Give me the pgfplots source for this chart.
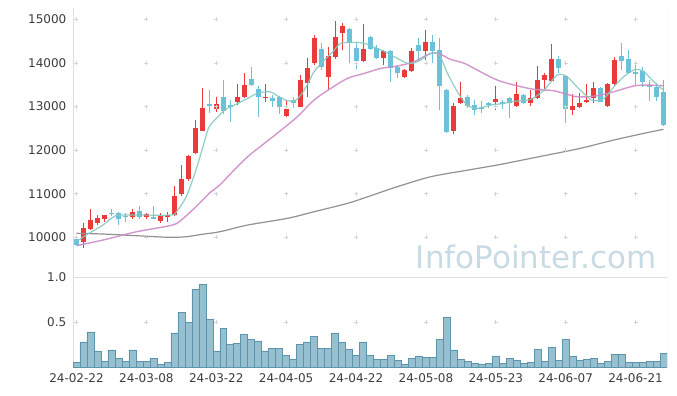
\documentclass[border=0pt]{standalone}
\usepackage{fontspec}
\setmainfont{DejaVu Sans}
\usepackage{pgfplots}
\usepackage{pgfplotstable}
\pgfplotsset{compat=1.18}

\definecolor{upc}{RGB}{236,58,58}
\definecolor{dnc}{RGB}{108,192,216}
\definecolor{volf}{RGB}{150,192,208}
\definecolor{vole}{RGB}{92,148,172}
\definecolor{ma5}{RGB}{132,200,192}
\definecolor{ma20}{RGB}{204,140,198}
\definecolor{ma120}{RGB}{145,145,145}
\definecolor{gridc}{RGB}{212,212,212}
\definecolor{axc}{RGB}{222,222,222}
\definecolor{wmc}{RGB}{200,218,228}
\definecolor{txt}{RGB}{60,60,60}

% up candles (close > open)
\pgfplotstableread{
i o h l c
1 9900 10320 9750 10206
2 10190 10640 10160 10400
3 10335 10510 10280 10450
4 10420 10510 10360 10510
8 10460 10660 10410 10590
10 10470 10560 10410 10530
12 10380 10550 10335 10490
13 10460 10590 10360 10510
14 10510 11180 10480 10950
15 10990 11670 10950 11340
16 11330 11890 11300 11865
17 11930 12700 11900 12500
18 12450 13420 12430 12960
20 12940 13225 12880 13055
23 13110 13510 13030 13210
24 13215 13760 13190 13490
27 13185 13510 13110 13215
30 12780 13150 12760 12945
32 13000 13720 12980 13610
33 13550 14105 13210 13875
34 14005 14640 13950 14565
36 13685 14370 13380 14160
37 14140 14965 14100 14600
38 14695 14910 14300 14855
41 14050 14890 14020 14310
44 14105 14300 13950 14265
47 13685 13860 13660 13835
48 13820 14335 13800 14275
50 14280 14755 14065 14470
54 12445 13070 12360 13010
55 13090 13570 13050 13200
60 13110 13470 12920 13165
63 13020 13570 12990 13285
65 13090 13380 13010 13190
66 13200 13920 13180 13610
67 13610 13775 13360 13720
68 13590 14435 13560 14085
71 12920 13290 12805 13010
72 12995 13310 12970 13085
73 13095 13515 13070 13150
74 13200 13555 13085 13430
76 13010 13530 13000 13515
77 13515 14130 13500 14060
}\up

% down candles (close < open)
\pgfplotstableread{
i o h l c
0 9960 10040 9800 9825
5 10560 10640 10490 10530
6 10550 10570 10280 10410
7 10500 10550 10360 10460
9 10600 10720 10410 10470
11 10470 10720 10420 10430
19 13055 13390 12860 13010
21 13210 13600 12830 12900
22 13035 13150 12650 12980
25 13630 13900 13480 13500
26 13395 13470 12760 13230
28 13200 13265 12995 13135
29 13230 13250 12830 12995
31 13150 13210 12960 13075
35 14310 14450 13840 13910
39 14775 14800 13990 14460
40 14335 14490 13850 14050
42 14595 14620 14300 14330
43 14335 14420 14100 14120
45 14275 14300 13560 13890
46 13910 13950 13645 13760
49 14410 14580 14067 14275
51 14470 14640 14005 14275
52 14295 14565 12920 13470
53 13380 13400 12400 12420
56 13225 13260 12960 13010
57 13035 13150 12805 12920
58 12995 13125 12850 12945
59 13070 13100 12960 13035
61 13110 13140 12935 13055
62 13190 13210 12730 13075
64 13265 13290 13060 13085
69 14100 14160 13760 13885
70 13700 13720 12615 12945
75 13430 13440 13100 13110
78 14160 14450 13840 14045
79 14100 14300 13740 13760
80 13800 14030 13490 13740
81 13815 13900 13450 13570
82 13495 13610 13125 13440
83 13440 13530 13125 13225
84 13340 13620 12560 12575
}\down

% moving averages
\pgfplotstableread{
x y
0 9899
1.4 10053
3.8 10282
5.2 10459
6.6 10511
13.3 10511
14.3 10587
15.7 10931
17.1 11544
18.1 12078
19 12537
20.5 12805
21.2 12920
22.6 13034
24.5 13188
25.9 13303
27.6 13340
28.8 13241
30.2 13133
31.4 13149
32.6 13378
34 13798
35.5 14067
36.9 14296
37.8 14449
39.7 14472
41.2 14449
43.6 14296
45.9 14106
47.4 13991
48.8 14028
50.7 14220
51.9 14181
53.1 13761
54.5 13340
55.9 13034
57.4 12959
59.3 13034
61.2 13073
62.6 13120
65 13165
66.9 13378
68.8 13722
70.2 13684
71.6 13454
73.1 13225
74 13133
75.5 13188
76.9 13454
78.3 13684
80 13853
81.2 13798
82.6 13569
84 13378
}\maA

\pgfplotstableread{
x y
0 9808
3.8 9938
8.6 10128
13.3 10266
14.7 10358
17.1 10702
19 11009
20.5 11200
22.1 11468
24.5 11849
26.9 12156
29.3 12461
31.6 12766
34 13149
36.4 13417
38.8 13647
41.2 13761
43.6 13876
45.9 13929
48.3 14028
50.7 14220
52.1 14197
53.5 14083
55.5 13991
57.8 13798
60.2 13608
62.6 13493
65.5 13394
68.3 13362
71.6 13225
74.5 13248
76.9 13340
79.7 13470
81.6 13493
84 13477
}\maB

\pgfplotstableread{
x y
0 10092
3.8 10076
8.6 10037
13.3 10000
15.7 10014
18 10070
20.5 10128
24.5 10282
30.2 10436
34 10587
38.8 10780
41.2 10905
45.9 11161
50.7 11390
55.5 11528
60.2 11658
62.6 11734
67.4 11888
72.1 12041
76.9 12232
81.6 12399
84 12477
}\maC

\pgfplotstableread{
i v
0 0.053
1 0.28
2 0.39
3 0.18
4 0.064
5 0.19
6 0.10
7 0.064
8 0.19
9 0.064
10 0.064
11 0.10
12 0.03
13 0.053
14 0.38
15 0.61
16 0.50
17 0.86
18 0.92
19 0.53
20 0.18
21 0.43
22 0.25
23 0.26
24 0.36
25 0.31
26 0.29
27 0.18
28 0.21
29 0.21
30 0.13
31 0.087
32 0.25
33 0.28
34 0.34
35 0.21
36 0.21
37 0.37
38 0.27
39 0.20
40 0.13
41 0.28
42 0.13
43 0.087
44 0.087
45 0.13
46 0.076
47 0.03
48 0.10
49 0.12
50 0.11
51 0.11
52 0.31
53 0.55
54 0.19
55 0.087
56 0.064
57 0.042
58 0.03
59 0.042
60 0.12
61 0.042
62 0.10
63 0.076
64 0.042
65 0.053
66 0.20
67 0.064
68 0.22
69 0.076
70 0.31
71 0.12
72 0.076
73 0.087
74 0.10
75 0.042
76 0.064
77 0.14
78 0.14
79 0.053
80 0.053
81 0.053
82 0.064
83 0.064
84 0.155
}\vol

\begin{document}
\begin{tikzpicture}
\useasboundingbox (0pt,0pt) rectangle (677pt,-396pt);
\pgfplotsset{
  every axis/.append style={
    scale only axis, width=594pt,
    xmin=-0.5, xmax=84.5,
    axis line style={draw=none},
    major tick length=0pt,
    yticklabel style={anchor=east, inner sep=0pt, xshift=-6.5pt, font=\fontsize{12}{14}\selectfont, text=txt},
    xticklabel style={anchor=north, inner sep=0pt, yshift=-6pt, font=\fontsize{12}{14}\selectfont, text=txt},
  },
  candle/.style 2 args={draw=none, mark=none, forget plot,
    error bars/.cd, y dir=plus, y explicit, error mark=none,
    error bar style={draw=#1, solid, line width=#2}},
}
% ---------- price panel ----------
\begin{axis}[
  at={(73pt,-277pt)}, anchor=south west,
  height=269pt,
  ymin=9090, ymax=15260,
  xtick=\empty,
  ytick={10000,11000,12000,13000,14000,15000},
  yticklabels={10000,11000,12000,13000,14000,15000},
]
\node[font=\fontsize{31}{36}\selectfont, text=wmc, anchor=base] at (axis cs:65.8,9296) {InfoPointer.com};
\addplot[only marks, mark=+, mark size=2pt, color=gridc, mark options={line width=0.7pt}] coordinates {
(0,10000)(10,10000)(20,10000)(30,10000)(40,10000)(50,10000)(60,10000)(70,10000)(80,10000)
(0,11000)(10,11000)(20,11000)(30,11000)(40,11000)(50,11000)(60,11000)(70,11000)(80,11000)
(0,12000)(10,12000)(20,12000)(30,12000)(40,12000)(50,12000)(60,12000)(70,12000)(80,12000)
(0,13000)(10,13000)(20,13000)(30,13000)(40,13000)(50,13000)(60,13000)(70,13000)(80,13000)
(0,14000)(10,14000)(20,14000)(30,14000)(40,14000)(50,14000)(60,14000)(70,14000)(80,14000)
(0,15000)(10,15000)(20,15000)(30,15000)(40,15000)(50,15000)(60,15000)(70,15000)(80,15000)
};
\draw[axc, line width=0.8pt] (rel axis cs:0,0) -- (rel axis cs:0,1);
\draw[axc, line width=0.8pt] (rel axis cs:1,0) -- (rel axis cs:1,1);
\draw[axc, line width=0.8pt] (rel axis cs:0,0) -- (rel axis cs:1,0);
% wicks
\addplot[candle={upc}{1pt}]
  table[x=i, y=l, y error plus expr=\thisrow{h}-\thisrow{l}] {\up};
\addplot[candle={dnc}{1pt}]
  table[x=i, y=l, y error plus expr=\thisrow{h}-\thisrow{l}] {\down};
% bodies
\addplot[candle={upc}{5pt}]
  table[x=i, y=o, y error plus expr=\thisrow{c}-\thisrow{o}] {\up};
\addplot[candle={dnc}{5pt}]
  table[x=i, y=c, y error plus expr=\thisrow{o}-\thisrow{c}] {\down};
% moving averages
\addplot[ma120, line width=1.2pt, smooth, mark=none] table[x=x,y=y] {\maC};
\addplot[ma20, line width=1.4pt, smooth, mark=none, opacity=0.9] table[x=x,y=y] {\maB};
\addplot[ma5, line width=1.2pt, smooth, mark=none, opacity=0.9] table[x=x,y=y] {\maA};
\end{axis}
% ---------- volume panel ----------
\begin{axis}[
  at={(73pt,-367pt)}, anchor=south west,
  height=90pt,
  ymin=0, ymax=1,
  xtick={0,10,20,30,40,50,60,70,80},
  xticklabels={24-02-22,24-03-08,24-03-22,24-04-05,24-04-22,24-05-08,24-05-23,24-06-07,24-06-21},
  ytick={0.5,1},
  yticklabels={0.5,1.0},
]
\addplot[only marks, mark=+, mark size=2pt, color=gridc, mark options={line width=0.7pt}] coordinates {
(0,0.5)(10,0.5)(20,0.5)(30,0.5)(40,0.5)(50,0.5)(60,0.5)(70,0.5)(80,0.5)
};
\draw[axc, line width=0.8pt] (rel axis cs:0,0) -- (rel axis cs:0,1);
\draw[axc, line width=0.8pt] (rel axis cs:1,0) -- (rel axis cs:1,1);
\addplot[ybar, bar width=1, bar shift=0pt, fill=volf, draw=vole, line width=0.5pt] table[x=i,y=v] {\vol};
\node[rotate=90, font=\fontsize{12}{14}\selectfont, text=txt] at (axis description cs:-0.072,0.5) {10\textsuperscript{6}};
\end{axis}
\end{tikzpicture}
\end{document}
